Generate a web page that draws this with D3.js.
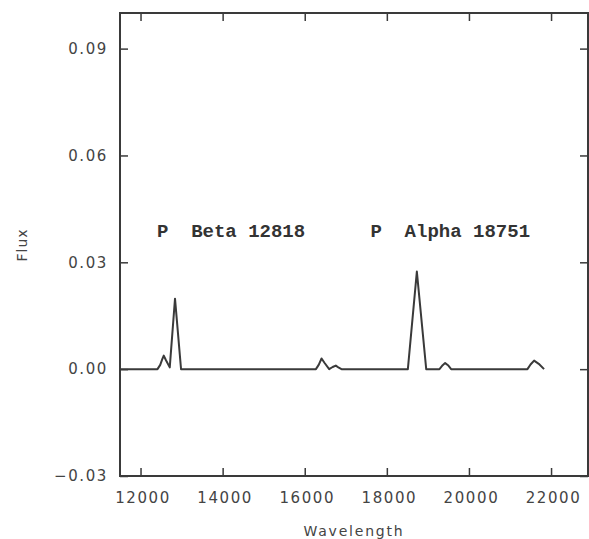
<!DOCTYPE html>
<html>
<head>
<meta charset="utf-8">
<script src="https://cdn.jsdelivr.net/npm/d3@7"></script>
<style>
  html, body { margin: 0; padding: 0; background: #fff; }
  svg { display: block; }
</style>
</head>
<body>
<svg id="chart" width="589" height="539"></svg>
<script>
// ---- data ----
const wavelength = [11520, 12413, 12480, 12530, 12566, 12620, 12712, 12840, 12987,
  16272, 16340, 16410, 16480, 16595, 16680, 16757, 16830, 16895,
  18512, 18731, 18959,
  19282, 19360, 19420, 19490, 19566,
  21425, 21500, 21587, 21700, 21830];
const flux = [0, 0, 0.0012, 0.0028, 0.0038, 0.0025, 0.0005, 0.0198, 0,
  0, 0.0012, 0.003, 0.0018, 0, 0.0006, 0.001, 0.0004, 0,
  0, 0.0274, 0,
  0, 0.0011, 0.0017, 0.0011, 0,
  0, 0.0013, 0.0024, 0.0015, 0];
const xTicks = [12000, 14000, 16000, 18000, 20000, 22000];
const yTicks = [-0.03, 0.00, 0.03, 0.06, 0.09];
const lineLabels = ["P  Beta 12818", "P  Alpha 18751"];
const labelWavelengths = [12400, 17600];
const labelFlux = [0.0372, 0.0372];
const xTitle = "Wavelength";
const yTitle = "Flux";

// ---- layout ----
const L = 120, R = 588, T = 13, B = 476;
const ink = "#3a3a3a";
const svg = d3.select("#chart");
const x = d3.scaleLinear().domain([11500, 22900]).range([L, R]);
const y = d3.scaleLinear().domain([-0.03, 0.10]).range([B, T]);

const tickFont = "'DejaVu Sans', sans-serif";

// axes with inward ticks
const gB = svg.append("g").attr("transform", `translate(0,${B})`)
  .call(d3.axisBottom(x).tickValues(xTicks).tickSizeInner(-8).tickSizeOuter(0).tickPadding(16).tickFormat(d3.format("d")));
const gT = svg.append("g").attr("transform", `translate(0,${T})`)
  .call(d3.axisTop(x).tickValues(xTicks).tickSizeInner(-8).tickSizeOuter(0).tickFormat(""));
const gL = svg.append("g").attr("transform", `translate(${L},0)`)
  .call(d3.axisLeft(y).tickValues(yTicks).tickSizeInner(-8).tickSizeOuter(0).tickPadding(12).tickFormat(d3.format(".2f")));
const gR = svg.append("g").attr("transform", `translate(${R},0)`)
  .call(d3.axisRight(y).tickValues(yTicks).tickSizeInner(-8).tickSizeOuter(0).tickFormat(""));

[gB, gT, gL, gR].forEach(g => {
  g.select(".domain").remove();
  g.selectAll(".tick line").attr("stroke", ink).attr("stroke-width", 1.5);
  g.selectAll(".tick text")
    .attr("fill", "#444")
    .style("font-family", tickFont)
    .style("font-size", "15px")
    .style("letter-spacing", "1.6px");
});
gB.selectAll(".tick text").attr("dx", "2px");

// frame
svg.append("rect")
  .attr("x", L).attr("y", T).attr("width", R - L).attr("height", B - T)
  .attr("fill", "none").attr("stroke", ink).attr("stroke-width", 2);

// spectrum
const pts = wavelength.map((w, i) => [w, flux[i]]);
svg.append("path")
  .datum(pts)
  .attr("fill", "none")
  .attr("stroke", ink)
  .attr("stroke-width", 2)
  .attr("stroke-linejoin", "round")
  .attr("d", d3.line().x(d => x(d[0])).y(d => y(d[1])));

// line annotations
svg.selectAll(".ann").data(lineLabels).enter().append("text")
  .attr("class", "ann")
  .attr("x", (d, i) => x(labelWavelengths[i]))
  .attr("y", (d, i) => y(labelFlux[i]))
  .attr("xml:space", "preserve")
  .style("white-space", "pre")
  .attr("fill", "#333")
  .style("font-family", "'Liberation Mono', 'DejaVu Sans Mono', monospace")
  .style("font-weight", "bold")
  .style("font-size", "19px")
  .text(d => d);

// axis titles
svg.append("text")
  .attr("x", (L + R) / 2).attr("y", 536)
  .attr("text-anchor", "middle")
  .attr("fill", "#444")
  .style("font-family", tickFont)
  .style("font-size", "14px")
  .style("letter-spacing", "1.8px")
  .text(xTitle);

svg.append("text")
  .attr("transform", "translate(27,245) rotate(-90)")
  .attr("text-anchor", "middle")
  .attr("fill", "#444")
  .style("font-family", tickFont)
  .style("font-size", "14px")
  .style("letter-spacing", "1px")
  .text(yTitle);
</script>
</body>
</html>
